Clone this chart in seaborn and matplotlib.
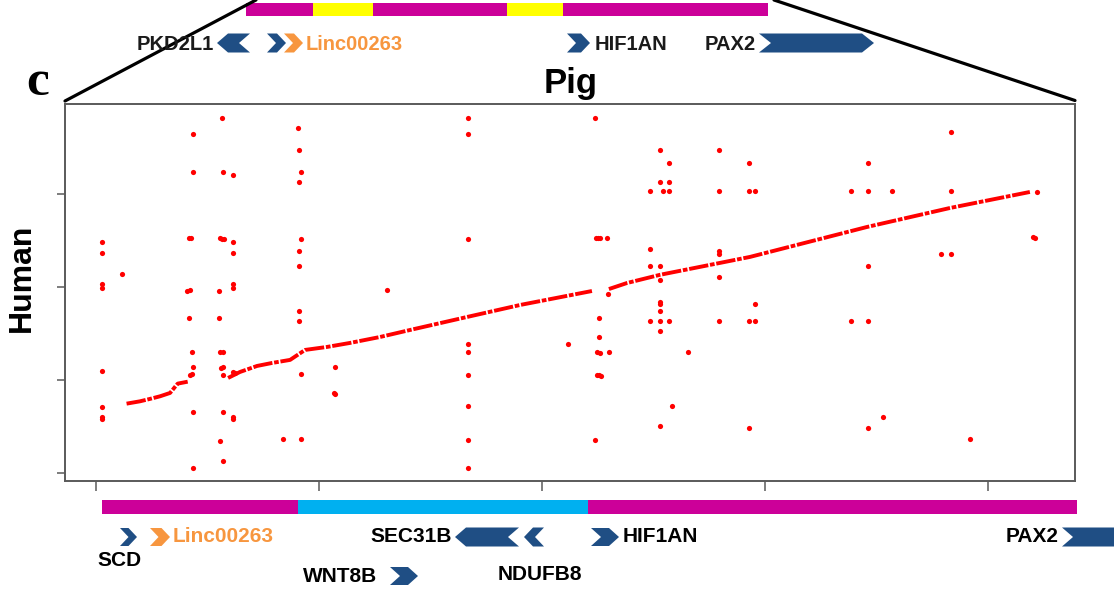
import numpy as np
import pandas as pd
import matplotlib
matplotlib.use("Agg")
import matplotlib.pyplot as plt
import seaborn as sns
from matplotlib.patches import Polygon, Rectangle

# ---------------- data (kb positions) ----------------
# main syntenic diagonal, drawn as three runs
line_seg = [1, 1, 1, 1, 1, 1, 1,
            2, 2, 2, 2, 2, 2, 2, 2, 2, 2, 2, 2, 2,
            3, 3, 3, 3, 3, 3, 3, 3]
line_x = [13.7, 19.7, 24.2, 28.7, 33.2, 36.6, 41.1,
          59.2, 64.5, 72.2, 78.9, 87.0, 93.7, 103.5, 113.8, 127.3, 140.7, 166.3, 190.1, 222.3,
          229.9, 238.0, 252.8, 279.7, 293.1, 345.6, 382.8, 418.6]
line_y = [74.8, 77.3, 79.9, 82.7, 86.3, 96.3, 98.4,
          102.4, 108.8, 115.3, 118.5, 121.8, 132.5, 135.7, 140.0, 146.4, 153.9, 167.9, 180.8, 195.8,
          197.9, 204.4, 213.2, 226.0, 232.4, 264.6, 285.0, 302.2]

# scattered repeat matches
dot_x = [56.6, 43.3, 90.7, 91.1, 43.3, 57.1, 61.5, 91.8, 91.1,
         41.6, 42.4, 55.6, 56.4, 57.2, 61.5, 91.8, 2.8, 2.8, 61.5, 91.1, 91.1, 11.5,
         2.8, 2.8, 61.5, 61.5, 41.0, 42.1, 55.1, 130.3, 41.6, 55.1, 91.1, 91.1,
         42.9, 55.6, 56.8, 2.8, 43.3, 56.2, 57.1, 42.1, 42.9, 56.8, 61.4, 62.5,
         91.8, 107.1, 106.7, 107.3, 2.8, 2.8, 2.8, 43.3, 57.1, 61.5, 61.5,
         55.6, 84.0, 91.8, 57.1, 43.3,
         166.6, 166.6, 223.7, 252.8, 279.4, 256.7, 292.7, 252.8, 256.7,
         248.3, 254.3, 256.7, 279.4, 292.7, 166.6, 224.1, 225.0, 225.9, 228.9,
         248.3, 279.4, 279.4, 248.3, 252.8, 279.4, 252.8, 229.6, 252.8, 252.8,
         252.8, 248.3, 252.8, 256.7, 279.4, 292.7, 252.8, 225.5, 225.6,
         166.6, 166.6, 211.4, 224.4, 225.9, 230.1, 265.5, 166.6, 224.4, 225.3,
         226.2, 166.6, 258.0, 252.8, 292.7, 166.6, 223.7, 166.6,
         346.2, 383.2, 295.3, 338.4, 346.2, 356.9, 383.2, 421.6, 419.9, 420.9,
         378.6, 383.2, 346.2, 295.3, 295.3, 338.4, 346.2, 346.2, 352.9, 391.7]
dot_y = [381.3, 364.5, 371.2, 347.3, 323.3, 323.3, 320.4, 323.3, 312.9,
         252.4, 252.4, 252.4, 252.2, 252.0, 248.8, 251.7, 248.8, 236.6, 236.6, 238.8, 223.0, 214.1,
         203.3, 198.7, 203.3, 198.7, 196.0, 196.9, 196.1, 196.9, 166.5, 166.5, 174.7, 163.3,
         130.0, 130.0, 130.3, 109.9, 113.9, 113.4, 113.9, 105.6, 106.3, 105.6, 108.8, 107.5,
         106.3, 113.9, 85.9, 85.0, 70.9, 60.8, 58.0, 66.2, 66.2, 60.8, 58.0,
         35.0, 36.5, 36.5, 13.2, 6.0,
         381.3, 364.5, 381.3, 347.3, 347.3, 333.0, 333.0, 313.2, 313.2,
         303.5, 303.5, 303.5, 303.5, 303.5, 251.7, 252.4, 252.4, 252.4, 252.4,
         240.9, 239.1, 235.6, 223.0, 223.0, 211.2, 207.6, 192.3, 184.3, 181.9,
         174.7, 163.6, 163.6, 163.6, 163.6, 163.6, 153.2, 166.5, 146.1,
         139.2, 130.3, 139.2, 130.0, 129.5, 130.6, 130.6, 105.9, 105.6, 105.2,
         104.8, 72.3, 72.3, 51.1, 49.0, 36.1, 36.1, 6.0,
         333.0, 366.9, 303.5, 303.5, 303.5, 303.5, 303.5, 302.5, 253.5, 252.7,
         235.2, 235.2, 222.7, 182.2, 163.6, 163.6, 163.6, 49.0, 60.8, 36.5]

x_ticks = [0, 100, 200, 300, 400]
y_ticks = [0, 100, 200, 300]

# gene annotation tracks (labels)
top_genes = ["PKD2L1", "Linc00263", "HIF1AN", "PAX2"]
bottom_genes = ["SCD", "Linc00263", "SEC31B", "WNT8B", "NDUFB8", "HIF1AN", "PAX2"]

# ---------------- styling ----------------
sns.set_style("white")
plt.rcParams['font.family'] = ['Liberation Sans', 'DejaVu Sans']

MAG = '#CC0099'
YEL = '#FFFF00'
CYA = '#00B0F0'
BLUE = '#1F4E84'
ORNG = '#F7963F'
NARROW = ['Liberation Sans Narrow', 'Liberation Sans', 'DejaVu Sans']

W, H = 1114, 592
fig = plt.figure(figsize=(W / 100, H / 100), dpi=100)
fig.patch.set_facecolor('white')

ax = fig.add_axes([65 / W, 1 - 481 / H, (1074.5 - 65) / W, (481 - 104) / H])

line_df = pd.DataFrame({'seg': line_seg, 'x': line_x, 'y': line_y})
sns.lineplot(data=line_df, x='x', y='y', units='seg', estimator=None, sort=False,
             color='#FF0000', lw=2.8, ax=ax, legend=False)
for ln in ax.get_lines():
    ln.set_linestyle((0, (5, 0.45, 1.2, 0.45)))
    ln.set_solid_capstyle('round')

dots_df = pd.DataFrame({'x': dot_x, 'y': dot_y})
sns.scatterplot(data=dots_df, x='x', y='y', color='#FF0000', s=14, linewidth=0, ax=ax)

ax.set_xlim(-13.9, 438.6)
ax.set_ylim(-8.3, 396.7)
ax.set_xticks(x_ticks)
ax.set_yticks(y_ticks)
ax.set_xticklabels([])
ax.set_yticklabels([])
ax.set_xlabel('')
ax.set_ylabel('')
for s in ax.spines.values():
    s.set_color('#5a5a5a')
    s.set_linewidth(1.4)
    s.set_visible(True)
ax.tick_params(axis='x', direction='out', length=7, width=1.1, color='#5a5a5a', bottom=True)
ax.tick_params(axis='y', direction='out', length=5.5, width=1.1, color='#5a5a5a', left=True)

# ---------------- overlay for annotations (pixel coordinates) ----------------
ov = fig.add_axes([0, 0, 1, 1])
ov.set_xlim(0, W)
ov.set_ylim(H, 0)
ov.axis('off')
ov.patch.set_alpha(0)
ov.set_zorder(5)


def chevron(x0, x1, yc, h, d, color, direction='right'):
    yt, yb = yc - h / 2, yc + h / 2
    if direction == 'right':
        pts = [(x0, yt), (x1 - d, yt), (x1, yc), (x1 - d, yb), (x0, yb), (x0 + d, yc)]
    else:
        pts = [(x1, yt), (x0 + d, yt), (x0, yc), (x0 + d, yb), (x1, yb), (x1 - d, yc)]
    ov.add_patch(Polygon(pts, closed=True, facecolor=color, edgecolor='none'))


# top region bar
for x0, x1, c in [(246, 313, MAG), (313, 373, YEL), (373, 507, MAG), (507, 563, YEL), (563, 768, MAG)]:
    ov.add_patch(Rectangle((x0, 3), x1 - x0, 12.5, facecolor=c, edgecolor='none'))

# top genes
ty = 43
tfs = 14.5
ov.text(214, ty + 1, top_genes[0], ha='right', va='center', fontsize=tfs,
        family=NARROW, fontweight='bold', color='#1a1a1a')
chevron(217, 250, ty, 19, 11, BLUE, 'left')
chevron(267, 286, ty, 19, 9, BLUE, 'right')
chevron(284, 303, ty, 19, 9, ORNG, 'right')
ov.text(306, ty + 1, top_genes[1], ha='left', va='center', fontsize=tfs,
        family=NARROW, fontweight='bold', color=ORNG)
chevron(567, 590, ty, 19, 9, BLUE, 'right')
ov.text(595, ty + 1, top_genes[2], ha='left', va='center', fontsize=tfs,
        family=NARROW, fontweight='bold', color='#1a1a1a')
ov.text(756, ty + 1, top_genes[3], ha='right', va='center', fontsize=tfs,
        family=NARROW, fontweight='bold', color='#1a1a1a')
chevron(759, 874, ty, 19, 12, BLUE, 'right')

# connector lines
ov.plot([256, 65], [0, 101], color='black', lw=2.3, solid_capstyle='round')
ov.plot([774, 1075], [0, 100.5], color='black', lw=2.3, solid_capstyle='round')

# panel letter and titles
ov.text(38, 83, 'c', ha='center', va='center', fontsize=37, fontweight='bold',
        family=['Liberation Serif', 'DejaVu Serif'], color='black')
ov.text(571, 93, 'Pig', ha='center', va='baseline', fontsize=25, fontweight='bold', color='black')
ov.text(22, 278, 'Human', ha='center', va='center', rotation=90, fontsize=23,
        fontweight='bold', color='black')

# bottom region bar
for x0, x1, c in [(102, 298, MAG), (298, 588, CYA), (588, 1077, MAG)]:
    ov.add_patch(Rectangle((x0, 500), x1 - x0, 14, facecolor=c, edgecolor='none'))

# bottom genes
by = 537
bfs = 15
chevron(120, 137, by, 18, 8.5, BLUE, 'right')
chevron(150, 170, by, 18, 8.5, ORNG, 'right')
ov.text(173, by, bottom_genes[1], ha='left', va='center', fontsize=bfs, fontweight='bold', color=ORNG)
ov.text(97, 561, bottom_genes[0], ha='left', va='center', fontsize=bfs, fontweight='bold', color='black')
ov.text(452, by, bottom_genes[2], ha='right', va='center', fontsize=bfs, fontweight='bold', color='black')
chevron(455, 519, by, 19, 11, BLUE, 'left')
chevron(524, 544, by, 19, 9, BLUE, 'left')
ov.text(303, 576, bottom_genes[3], ha='left', va='center', fontsize=bfs, fontweight='bold', color='black')
chevron(390, 418, 576, 18, 10, BLUE, 'right')
ov.text(498, 575, bottom_genes[4], ha='left', va='center', fontsize=bfs, fontweight='bold', color='black')
chevron(591, 619, by, 18, 10, BLUE, 'right')
ov.text(623, by, bottom_genes[5], ha='left', va='center', fontsize=bfs, fontweight='bold', color='black')
ov.text(1059, by, bottom_genes[6], ha='right', va='center', fontsize=bfs, fontweight='bold', color='black')
chevron(1062, 1180, by, 19, 11, BLUE, 'right')

fig.savefig('out.png', dpi=100, facecolor='white')
